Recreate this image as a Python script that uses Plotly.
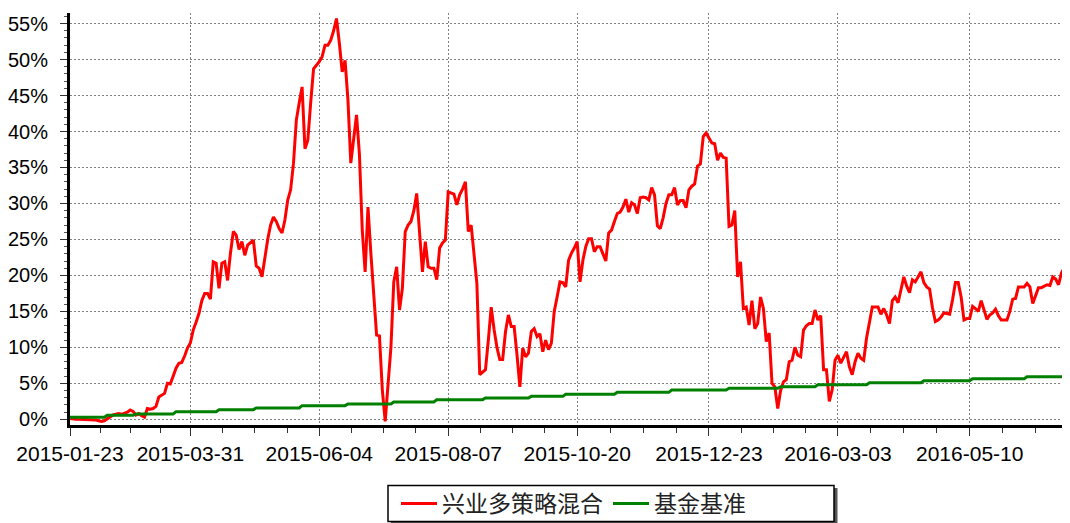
import pandas as pd
import plotly.graph_objects as go

# Chinese A-share market closures in the period
holidays = [
    "2015-02-18", "2015-02-19", "2015-02-20", "2015-02-23", "2015-02-24",
    "2015-04-06", "2015-05-01", "2015-06-22", "2015-09-03", "2015-09-04",
    "2015-10-01", "2015-10-02", "2015-10-05", "2015-10-06", "2015-10-07",
    "2016-01-01", "2016-02-08", "2016-02-09", "2016-02-10", "2016-02-11",
    "2016-02-12", "2016-04-04", "2016-05-02", "2016-06-09", "2016-06-10",
]
trade_days = [d for d in pd.bdate_range("2015-01-23", "2016-06-30").strftime("%Y-%m-%d")
              if d not in holidays]

series_names = ["兴业多策略混合", "基金基准"]

# cumulative return of the fund, %
fund_returns = [
    0.1, 0.0, 0.0, 0.0, 0.0, -0.1, -0.1, -0.1, -0.1, -0.1,
    -0.2, -0.3, -0.2, 0.1, 0.4, 0.6, 0.7, 0.8, 0.7, 0.8,
    1.0, 1.3, 1.1, 0.6, 0.8, 0.5, 0.3, 1.5, 1.4, 1.5,
    1.8, 3.1, 3.4, 3.6, 5.0, 4.9, 6.0, 7.1, 7.8, 7.9,
    8.8, 9.9, 10.6, 12.4, 13.5, 14.7, 16.5, 17.5, 17.5, 16.7,
    21.9, 21.7, 18.2, 21.7, 21.9, 19.3, 23.1, 26.1, 25.6, 23.6,
    24.7, 22.8, 24.2, 24.5, 24.9, 21.3, 21.0, 19.8, 22.5, 25.0,
    27.0, 28.1, 27.5, 26.5, 25.9, 27.7, 30.5, 31.9, 35.6, 41.6,
    44.0, 46.2, 37.6, 38.8, 44.0, 48.7, 49.2, 49.7, 50.4, 52.0,
    52.0, 52.7, 54.0, 55.7, 52.3, 48.3, 49.9, 44.4, 35.6, 39.3,
    42.3, 36.9, 26.3, 20.5, 29.5, 23.1, 17.0, 11.7, 11.6, 4.1,
    -0.3, 4.5, 10.0, 19.1, 21.2, 15.2, 18.2, 26.1, 27.0, 27.5,
    29.0, 31.4, 26.0, 20.5, 24.7, 21.2, 21.0, 21.0, 19.4, 23.8,
    24.5, 24.9, 31.6, 31.4, 31.3, 29.8, 31.2, 32.0, 33.0, 26.1,
    27.0, 23.0, 18.9, 6.2, 6.5, 6.9, 11.0, 15.6, 12.5, 10.0,
    8.3, 8.3, 12.2, 14.5, 12.9, 12.9, 9.0, 4.5, 9.9, 8.7,
    9.2, 12.2, 12.6, 11.5, 11.9, 9.4, 11.0, 9.7, 10.6, 15.0,
    17.0, 19.1, 19.0, 18.4, 22.1, 23.1, 23.8, 24.7, 19.1, 22.1,
    24.0, 25.1, 25.1, 23.3, 24.0, 24.0, 23.0, 22.0, 25.9, 26.3,
    27.5, 28.6, 28.8, 29.5, 30.6, 28.8, 30.1, 29.8, 28.6, 30.8,
    30.9, 30.8, 30.5, 32.2, 31.2, 26.9, 26.5, 28.0, 30.0, 31.2,
    31.2, 32.2, 29.8, 30.4, 30.4, 29.4, 31.9, 32.4, 32.7, 35.2,
    35.5, 39.3, 39.8, 39.0, 38.4, 38.3, 36.0, 37.0, 36.4, 36.3,
    26.8, 27.0, 29.0, 19.8, 21.9, 15.4, 15.6, 13.1, 16.5, 12.6,
    13.3, 17.0, 15.4, 10.8, 12.0, 5.0, 4.5, 1.5, 4.0, 5.2,
    5.5, 8.0, 8.2, 10.0, 8.9, 8.7, 12.4, 13.0, 13.3, 13.3,
    15.2, 13.8, 14.4, 6.9, 6.9, 2.5, 4.1, 8.2, 8.9, 7.8,
    8.6, 9.4, 7.3, 6.2, 8.0, 9.2, 8.5, 8.2, 11.3, 13.5,
    15.6, 15.6, 15.6, 14.6, 15.4, 14.5, 13.3, 16.5, 17.0, 16.2,
    18.0, 19.8, 18.5, 17.6, 19.4, 19.1, 19.8, 20.5, 19.0, 18.4,
    18.1, 15.5, 13.6, 13.8, 14.2, 14.8, 14.7, 14.6, 16.6, 19.0,
    19.0, 17.0, 13.8, 14.0, 14.0, 15.7, 15.4, 15.0, 16.5, 15.0,
    13.9, 14.5, 14.8, 15.3, 14.4, 13.8, 13.8, 13.8, 15.0, 16.7,
    16.8, 18.4, 18.4, 18.4, 18.9, 18.4, 16.1, 17.3, 18.3, 18.3,
    18.5, 18.7, 18.6, 19.8, 19.5, 18.7, 20.3, 21.1, 21.6, 21.9,
]

# cumulative return of the benchmark, %  (10 trading days per row)
bench_returns = [
    0.28, 0.28, 0.28, 0.28, 0.28, 0.28, 0.28, 0.28, 0.28, 0.28,
    0.28, 0.28, 0.28, 0.56, 0.56, 0.56, 0.56, 0.56, 0.56, 0.56,
    0.56, 0.56, 0.56, 0.74, 0.74, 0.74, 0.74, 0.74, 0.74, 0.74,
    0.74, 0.74, 0.74, 0.74, 0.74, 0.74, 0.74, 1.06, 1.06, 1.06,
    1.06, 1.06, 1.06, 1.06, 1.06, 1.06, 1.06, 1.06, 1.06, 1.06,
    1.06, 1.06, 1.34, 1.34, 1.34, 1.34, 1.34, 1.34, 1.34, 1.34,
    1.34, 1.34, 1.34, 1.34, 1.34, 1.57, 1.57, 1.57, 1.57, 1.57,
    1.57, 1.57, 1.57, 1.57, 1.57, 1.57, 1.57, 1.57, 1.57, 1.57,
    1.57, 1.90, 1.90, 1.90, 1.90, 1.90, 1.90, 1.90, 1.90, 1.90,
    1.90, 1.90, 1.90, 1.90, 1.90, 1.90, 1.90, 2.13, 2.13, 2.13,
    2.13, 2.13, 2.13, 2.13, 2.13, 2.13, 2.13, 2.13, 2.13, 2.13,
    2.13, 2.13, 2.13, 2.41, 2.41, 2.41, 2.41, 2.41, 2.41, 2.41,
    2.41, 2.41, 2.41, 2.41, 2.41, 2.41, 2.41, 2.41, 2.73, 2.73,
    2.73, 2.73, 2.73, 2.73, 2.73, 2.73, 2.73, 2.73, 2.73, 2.73,
    2.73, 2.73, 2.73, 2.73, 2.73, 2.96, 2.96, 2.96, 2.96, 2.96,
    2.96, 2.96, 2.96, 2.96, 2.96, 2.96, 2.96, 2.96, 2.96, 2.96,
    2.96, 3.19, 3.19, 3.19, 3.19, 3.19, 3.19, 3.19, 3.19, 3.19,
    3.19, 3.19, 3.19, 3.47, 3.47, 3.47, 3.47, 3.47, 3.47, 3.47,
    3.47, 3.47, 3.47, 3.47, 3.47, 3.47, 3.47, 3.47, 3.47, 3.47,
    3.47, 3.75, 3.75, 3.75, 3.75, 3.75, 3.75, 3.75, 3.75, 3.75,
    3.75, 3.75, 3.75, 3.75, 3.75, 3.75, 3.75, 3.75, 3.75, 3.75,
    4.07, 4.07, 4.07, 4.07, 4.07, 4.07, 4.07, 4.07, 4.07, 4.07,
    4.07, 4.07, 4.07, 4.07, 4.07, 4.07, 4.07, 4.07, 4.07, 4.07,
    4.31, 4.31, 4.31, 4.31, 4.31, 4.31, 4.31, 4.31, 4.31, 4.31,
    4.31, 4.31, 4.31, 4.31, 4.31, 4.31, 4.31, 4.31, 4.54, 4.54,
    4.54, 4.54, 4.54, 4.54, 4.54, 4.54, 4.54, 4.54, 4.54, 4.54,
    4.54, 4.81, 4.81, 4.81, 4.81, 4.81, 4.81, 4.81, 4.81, 4.81,
    4.81, 4.81, 4.81, 4.81, 4.81, 4.81, 4.81, 4.81, 4.81, 5.09,
    5.09, 5.09, 5.09, 5.09, 5.09, 5.09, 5.09, 5.09, 5.09, 5.09,
    5.09, 5.09, 5.09, 5.09, 5.09, 5.09, 5.09, 5.09, 5.37, 5.37,
    5.37, 5.37, 5.37, 5.37, 5.37, 5.37, 5.37, 5.37, 5.37, 5.37,
    5.37, 5.37, 5.37, 5.37, 5.37, 5.65, 5.65, 5.65, 5.65, 5.65,
    5.65, 5.65, 5.65, 5.65, 5.65, 5.65, 5.65, 5.65, 5.65, 5.65,
    5.65, 5.65, 5.65, 5.65, 5.93, 5.93, 5.93, 5.93, 5.93, 5.93,
    5.93, 5.93, 5.93, 5.93, 5.93, 5.93, 5.93, 5.93, 5.93, 5.93,
]

tick_labels = ["2015-01-23", "2015-03-31", "2015-06-04", "2015-08-07",
               "2015-10-20", "2015-12-23", "2016-03-03", "2016-05-10"]
y_tick_values = [0, 5, 10, 15, 20, 25, 30, 35, 40, 45, 50, 55]

n = min(len(trade_days), len(fund_returns), len(bench_returns))
x_idx = list(range(n))
tick_pos = [trade_days.index(t) for t in tick_labels]

# minor x ticks: each major interval split in four
minor_pos = []
for a, b in zip(tick_pos[:-1], tick_pos[1:]):
    step = (b - a) / 4
    minor_pos += [a + step * k for k in (1, 2, 3)]
last_step = (tick_pos[-1] - tick_pos[-2]) / 4
p = tick_pos[-1] + last_step
while p <= n - 1:
    minor_pos.append(p)
    p += last_step

fig = go.Figure()
fig.add_trace(go.Scatter(
    x=x_idx, y=fund_returns[:n], mode="lines", name=series_names[0],
    line=dict(color="#ff0000", width=3), customdata=trade_days[:n],
    hovertemplate="%{customdata}: %{y:.2f}%<extra></extra>"))
fig.add_trace(go.Scatter(
    x=x_idx, y=bench_returns[:n], mode="lines", name=series_names[1],
    line=dict(color="#008000", width=3), customdata=trade_days[:n],
    hovertemplate="%{customdata}: %{y:.2f}%<extra></extra>"))

# the page body has an 8px margin: size the figure so the plot lands
# at window pixels x 70..1070, y 13..425
OFF = 8
W, H = 1070 - OFF, 523 - OFF
L, R, T = 70 - OFF, 0, 13 - OFF
B = H - T - 412
pw, ph = W - L - R, H - T - B


def px_x(px):
    return (px - OFF - L) / pw


def px_y(py):
    return (H - B - (py - OFF)) / ph


shapes = [
    dict(type="rect", xref="paper", yref="paper",
         x0=px_x(391), x1=px_x(837.5), y0=px_y(525), y1=px_y(488),
         fillcolor="#555555", line=dict(width=0), layer="above"),
    dict(type="rect", xref="paper", yref="paper",
         x0=px_x(388), x1=px_x(834), y0=px_y(521.5), y1=px_y(485.5),
         fillcolor="white", line=dict(color="black", width=1.5), layer="above"),
]

fig.update_layout(
    width=W, height=H,
    margin=dict(l=L, r=R, t=T, b=B, pad=0, autoexpand=False),
    paper_bgcolor="white", plot_bgcolor="white",
    font=dict(family="Liberation Sans, Arial, Noto Sans CJK SC", size=20, color="black"),
    showlegend=True,
    legend=dict(orientation="h", x=px_x(396), xanchor="left",
                y=px_y(482), yanchor="top",
                bgcolor="rgba(0,0,0,0)", borderwidth=0,
                font=dict(family="Noto Sans CJK SC", size=23, color="#222222"),
                itemwidth=36, tracegroupgap=0),
    shapes=shapes,
    xaxis=dict(
        range=[0, n - 1], tickmode="array", tickvals=tick_pos, ticktext=tick_labels,
        showgrid=True, gridcolor="#808080", gridwidth=1, griddash="2px,2px",
        showline=True, linecolor="black", linewidth=3, automargin=False,
        ticks="outside", ticklen=8, tickwidth=1, tickcolor="#333333",
        minor=dict(tickmode="array", tickvals=minor_pos, ticks="outside",
                   ticklen=5, tickwidth=1, tickcolor="#333333", showgrid=False),
        zeroline=False, tickfont=dict(size=21),
    ),
    yaxis=dict(
        range=[-0.79, 56.47], tickmode="array", tickvals=y_tick_values,
        ticktext=[f"{v}%" for v in y_tick_values],
        showgrid=True, gridcolor="#808080", gridwidth=1, griddash="2px,2px",
        showline=True, linecolor="black", linewidth=3, automargin=False,
        ticks="outside", ticklen=7, tickwidth=1, tickcolor="#333333",
        ticklabelstandoff=8,
        minor=dict(dtick=1, ticks="outside", ticklen=3, tickwidth=1,
                   tickcolor="#555555", showgrid=False),
        zeroline=False, tickfont=dict(size=20),
    ),
)

fig.write_html("out.html")
